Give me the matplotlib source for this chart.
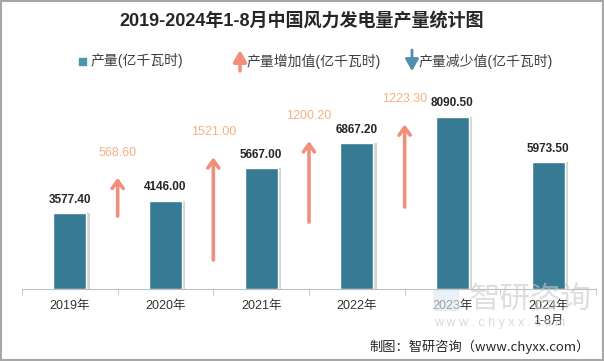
import matplotlib
matplotlib.use('Agg')
import matplotlib.pyplot as plt
from matplotlib.patches import Rectangle, FancyArrowPatch
import numpy as np

# 数据
years = ['2019年', '2020年', '2021年', '2022年', '2023年', '2024年\n1-8月']
output = [3577.40, 4146.00, 5667.00, 6867.20, 8090.50, 5973.50]   # 产量(亿千瓦时)
increase = [568.60, 1521.00, 1200.20, 1223.30]                    # 产量增加值(亿千瓦时)
arrow_base = [1080, 430, 990, 1215]                               # 箭头起点(次坐标轴)

plt.rcParams['font.family'] = ['Liberation Sans', 'Noto Sans CJK SC']

W, H = 604, 361
fig = plt.figure(figsize=(W / 100, H / 100), dpi=100)


def fx(x):
    return x / W


def fy(y):
    return 1 - y / H


bar_color = '#367A93'
up_color = '#F0907A'
inc_text_color = '#F4B183'

ax = fig.add_axes([fx(22), fy(289), fx(596) - fx(22), fy(76) - fy(289)])
x = np.arange(len(years))
bw = 0.345

# 阴影 + 柱子
ax.bar(x + 0.035, output, width=bw, color='#B8B8B8', alpha=0.6, zorder=1)
ax.bar(x, output, width=bw, color=bar_color, edgecolor='white', linewidth=1, zorder=2)

for xi, v in zip(x, output):
    ax.annotate(f'{v:.2f}', (xi, v), xytext=(0, 9.5), textcoords='offset points',
                ha='center', va='center', fontsize=8.5, fontweight='bold', color='#262626')

ax.set_xlim(-0.5, len(years) - 0.5)
ax.set_ylim(0, 10000)
ax.set_xticks(x)
ax.set_xticklabels(years, fontsize=9, color='#333333', linespacing=1.35)
ax.set_xticks(np.arange(-0.5, len(years)), minor=True)
ax.tick_params(axis='x', which='major', length=0, pad=8)
ax.tick_params(axis='x', which='minor', length=4, color='#BFBFBF')
ax.set_yticks([])
for s in ['left', 'right', 'top']:
    ax.spines[s].set_visible(False)
ax.spines['bottom'].set_color('#BFBFBF')

# 次坐标轴: 增加值箭头
ax2 = ax.twinx()
ax2.set_ylim(0, 3156)
ax2.set_yticks([])
for s in ax2.spines.values():
    s.set_visible(False)
for i, (b, inc) in enumerate(zip(arrow_base, increase)):
    xa = i + 0.5
    ax2.annotate('', xy=(xa, b + inc), xytext=(xa, b),
                 arrowprops=dict(arrowstyle='->,head_length=0.55,head_width=0.4',
                                 color=up_color, lw=2.6, shrinkA=0, shrinkB=0))
    ax2.annotate(f'{inc:.2f}', (xa, b + inc), xytext=(0, 18), textcoords='offset points',
                 ha='center', va='center', fontsize=9, color=inc_text_color)

# 标题
fig.text(0.5, fy(21), '2019-2024年1-8月中国风力发电量产量统计图', ha='center', va='center',
         fontsize=13, fontweight='bold', color='#262626')

# 图例
fig.patches.append(Rectangle((fx(79), fy(65)), fx(86) - fx(79), fy(58) - fy(65),
                             transform=fig.transFigure, color='#4A96AD'))
fig.text(fx(91), fy(61), '产量(亿千瓦时)', ha='left', va='center', fontsize=10, color='#404040')
fig.patches.append(FancyArrowPatch(
    (fx(240), fy(71)), (fx(240), fy(50)), transform=fig.transFigure,
    arrowstyle='-|>,head_length=0.7,head_width=0.4', color=up_color, lw=2.5,
    mutation_scale=10, shrinkA=0, shrinkB=0))
fig.text(fx(247), fy(61), '产量增加值(亿千瓦时)', ha='left', va='center', fontsize=10, color='#404040')
fig.patches.append(FancyArrowPatch(
    (fx(412), fy(50)), (fx(412), fy(71)), transform=fig.transFigure,
    arrowstyle='-|>,head_length=0.7,head_width=0.4', color='#4F8FAD', lw=2,
    mutation_scale=10, shrinkA=0, shrinkB=0))
fig.text(fx(419), fy(61), '产量减少值(亿千瓦时)', ha='left', va='center', fontsize=10, color='#404040')

# 水印
fig.text(fx(470), fy(300), '智研咨询', ha='left', va='center', fontsize=22,
         color='#C8C8C8', alpha=0.6)
fig.patches.append(Rectangle((fx(434), fy(310)), fx(458) - fx(434), fy(290) - fy(310),
                             transform=fig.transFigure, color='#DCE8F3', alpha=0.6))
fig.text(fx(434), fy(323), 'w w w . c h y x x . c o m', ha='left', va='center', fontsize=9,
         color='#C8C8C8', alpha=0.7)

# 来源
fig.text(fx(590), fy(347), '制图：智研咨询（www.chyxx.com）', ha='right', va='center',
         fontsize=9.5, color='#262626', family=['Noto Sans CJK SC'])

# 边框
fig.patches.append(Rectangle((0.001, 0.002), 0.997, 0.996, transform=fig.transFigure,
                             fill=False, edgecolor='#A6A6A6', lw=1.5))

fig.savefig('out.png', dpi=100)
